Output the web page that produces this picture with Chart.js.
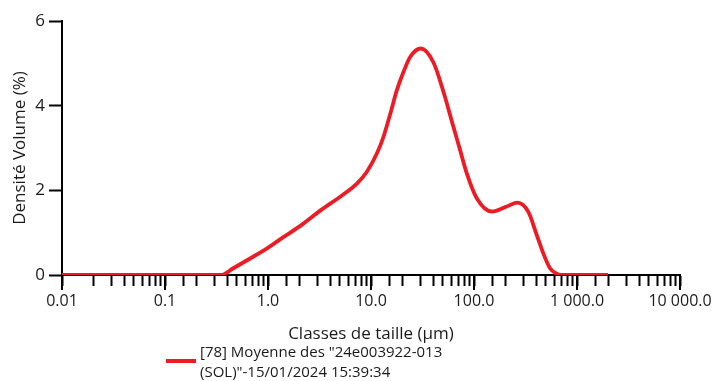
<!DOCTYPE html>
<html>
<head>
<meta charset="utf-8">
<script src="https://cdn.jsdelivr.net/npm/chart.js@4.4.1/dist/chart.umd.min.js"></script>
<style>
  body { margin: 0; background: #fff; }
  #psd { display: block; }
</style>
</head>
<body>
<canvas id="psd" width="714" height="381"></canvas>
<script>
// size classes (µm) and volume density (%)
var sizes = [0.01, 0.1, 0.3, 0.35, 0.46, 0.67, 0.98, 1.42, 2.06, 3.21, 5.02, 7.3, 9.12, 11.4, 13.2, 15.4, 17.8, 20.7, 24.0, 30.5, 40.4, 50.5, 63.1, 73.3, 85.1, 106, 149, 208, 264, 337, 406, 471, 547, 635, 700, 1000, 2000];
var volume = [0, 0, 0, 0, 0.16, 0.39, 0.63, 0.90, 1.16, 1.52, 1.85, 2.16, 2.44, 2.87, 3.26, 3.81, 4.36, 4.80, 5.15, 5.35, 5.02, 4.33, 3.50, 2.95, 2.40, 1.82, 1.50, 1.62, 1.71, 1.49, 0.95, 0.51, 0.16, 0.03, 0, 0, 0];

var decadeValues = [0.01, 0.1, 1, 10, 100, 1000, 10000];
var decadeLabels = ['0.01', '0.1', '1.0', '10.0', '100.0', '1 000.0', '10 000.0'];

var legendLines = ['[78] Moyenne des "24e003922-013', '(SOL)"-15/01/2024 15:39:34'];
var lineColor = '#ed1c24';
var textColor = '#1a1a1a';
var fontFamily = '"Open Sans", "Noto Sans", sans-serif';

function decadeIndex(v) {
    for (var i = 0; i < decadeValues.length; i++) {
        if (Math.abs(Math.log10(v) - Math.log10(decadeValues[i])) < 1e-6) return i;
    }
    return -1;
}

var points = [];
for (var i = 0; i < sizes.length; i++) {
    points.push({ x: sizes[i], y: volume[i] });
}

// longer marks on the decades + legend under the axis title
var extras = {
    id: 'extras',
    afterDraw: function (chart) {
        var ctx = chart.ctx;
        var xs = chart.scales.x;
        var area = chart.chartArea;
        ctx.save();
        ctx.strokeStyle = '#000';
        ctx.lineWidth = 2;
        for (var i = 0; i < decadeValues.length; i++) {
            var px = Math.round(xs.getPixelForValue(decadeValues[i]));
            ctx.beginPath();
            ctx.moveTo(px, area.bottom);
            ctx.lineTo(px, area.bottom + 15);
            ctx.stroke();
        }
        var lx = area.left + 104;
        var ly = area.bottom + 86;
        ctx.strokeStyle = lineColor;
        ctx.lineWidth = 4;
        ctx.beginPath();
        ctx.moveTo(lx, ly);
        ctx.lineTo(lx + 30, ly);
        ctx.stroke();
        ctx.fillStyle = textColor;
        ctx.font = '15px ' + fontFamily;
        ctx.textBaseline = 'middle';
        ctx.textAlign = 'left';
        ctx.fillText(legendLines[0], lx + 34, ly - 8);
        ctx.fillText(legendLines[1], lx + 34, ly + 12);
        ctx.restore();
    }
};

const ctr = document.getElementById('psd');

new Chart(ctr, {
    type: 'line',
    data: {
        datasets: [{
            label: legendLines.join(' '),
            data: points,
            borderColor: lineColor,
            borderWidth: 3.8,
            pointRadius: 0,
            fill: false,
            cubicInterpolationMode: 'monotone'
        }]
    },
    options: {
        responsive: false,
        animation: false,
        devicePixelRatio: 1,
        layout: { padding: { top: 21, right: 34, left: 0, bottom: 0 } },
        plugins: {
            legend: { display: false },
            tooltip: { enabled: false }
        },
        scales: {
            x: {
                type: 'logarithmic',
                min: 0.01,
                max: 10000,
                afterFit: function (scale) {
                    scale.height = 106;
                    scale.paddingLeft = 0;
                    scale.paddingRight = 0;
                },
                border: { color: '#000', width: 2 },
                grid: {
                    drawOnChartArea: false,
                    drawTicks: true,
                    tickLength: 11,
                    tickWidth: 2,
                    tickColor: '#000'
                },
                ticks: {
                    autoSkip: false,
                    maxRotation: 0,
                    padding: 6,
                    color: textColor,
                    font: { family: fontFamily, size: 16 },
                    callback: function (value) {
                        var k = decadeIndex(value);
                        return k >= 0 ? decadeLabels[k] : '';
                    }
                },
                title: {
                    display: true,
                    text: 'Classes de taille (µm)',
                    color: textColor,
                    font: { family: fontFamily, size: 17 },
                    padding: { top: 0, bottom: 37 }
                }
            },
            y: {
                min: 0,
                max: 6,
                afterFit: function (scale) { scale.width = 62; },
                border: { color: '#000', width: 2 },
                grid: {
                    drawOnChartArea: false,
                    drawTicks: true,
                    tickLength: 13,
                    tickWidth: 2,
                    tickColor: '#000'
                },
                ticks: {
                    stepSize: 2,
                    padding: 4,
                    color: textColor,
                    font: { family: fontFamily, size: 17 }
                },
                title: {
                    display: true,
                    text: 'Densité Volume (%)',
                    color: textColor,
                    font: { family: fontFamily, size: 17 },
                    padding: { top: 10, bottom: 0 }
                }
            }
        }
    },
    plugins: [extras]
});
</script>
</body>
</html>
